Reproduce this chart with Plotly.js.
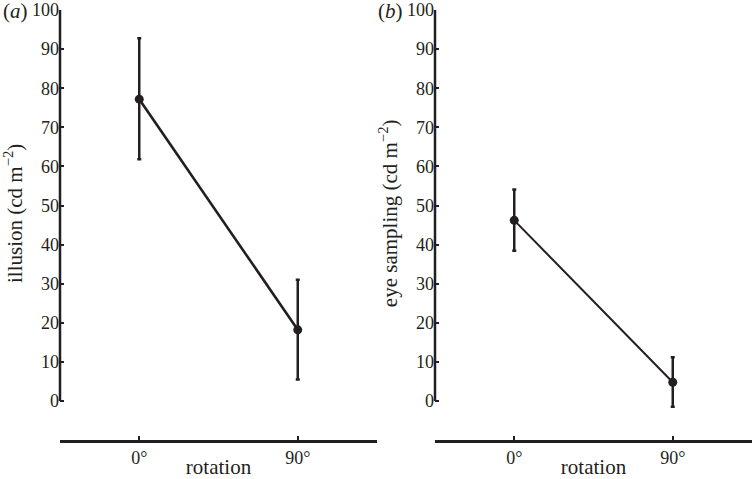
<!DOCTYPE html>
<html>
<head>
<meta charset="utf-8">
<script src="https://cdn.plot.ly/plotly-3.0.1.min.js"></script>
<style>html,body{margin:0;padding:0;background:#fff;}#chart{width:752px;height:479px;}</style>
</head>
<body>
<div id="chart"></div>
<script>
// data
const rotations = ['0°', '90°'];
const illusionMean = [77.2, 18.2];
const illusionErrPlus = [15.6, 12.8];
const illusionErrMinus = [15.4, 12.7];
const eyeMean = [46.2, 4.8];
const eyeErrPlus = [7.9, 6.4];
const eyeErrMinus = [7.8, 6.3];
const yTickVals = [0, 10, 20, 30, 40, 50, 60, 70, 80, 90, 100];
const panelLabels = ['(<i>a</i>)', '(<i>b</i>)'];

const ink = '#231f20';
const serif = 'Liberation Serif, Times New Roman, serif';
const tickSize = 18;
const titleSize = 21;

function trace(y, ep, em, xa, ya, lw) {
  return {
    x: rotations, y: y, xaxis: xa, yaxis: ya,
    type: 'scatter', mode: 'lines+markers', cliponaxis: false,
    line: {color: ink, width: lw},
    marker: {color: ink, size: 9},
    error_y: {type: 'data', symmetric: false, array: ep, arrayminus: em,
              color: ink, thickness: 2.5, width: 2},
    hoverinfo: 'skip', showlegend: false
  };
}

const data = [
  trace(illusionMean, illusionErrPlus, illusionErrMinus, 'x', 'y', 2.6),
  trace(eyeMean, eyeErrPlus, eyeErrMinus, 'x2', 'y2', 2)
];

const W = 692, H = 431;
const yMin = -4;
// pixel of y=0 is 401, y=100 is 10 => 3.91 px per unit
const yDomBottom = (441 - (401 + (-yMin) * 3.91)) / H;
const yDom = [yDomBottom, 1];
function xAxis(domain) {
  return {
    domain: domain, anchor: 'free', position: 0, type: 'category',
    range: [-0.5, 1.5], showline: true, linecolor: ink, linewidth: 2.5,
    ticks: 'inside', ticklen: 4, tickwidth: 2, tickcolor: ink,
    showgrid: false, zeroline: false, fixedrange: true,
    tickfont: {family: serif, size: tickSize, color: ink},
    title: {text: 'rotation', font: {family: serif, size: titleSize, color: ink}, standoff: 0}
  };
}
function yAxis(anchor, title) {
  return {
    domain: yDom, anchor: anchor, range: [yMin, 100],
    tickvals: yTickVals, ticktext: yTickVals.map(String),
    showline: false,
    ticks: 'inside', ticklen: 4, tickwidth: 2, tickcolor: ink,
    showgrid: false, zeroline: false, fixedrange: true,
    tickfont: {family: serif, size: tickSize, color: ink},
    title: {text: title, font: {family: serif, size: titleSize, color: ink}, standoff: 3}
  };
}
function axisLine(xr, yr) {
  return {type: 'line', xref: xr + ' domain', yref: yr, x0: 0, x1: 0, y0: 0, y1: 100,
          line: {color: ink, width: 2.5}, layer: 'above'};
}

const layout = {
  width: 752, height: 479,
  margin: {l: 60, r: 0, t: 10, b: 38},
  paper_bgcolor: '#fff', plot_bgcolor: '#fff',
  showlegend: false,
  xaxis: xAxis([0, (377 - 60) / W]),
  xaxis2: xAxis([(435 - 60) / W, 1]),
  yaxis: yAxis('x', 'illusion (cd m<sup>−2</sup>)'),
  yaxis2: yAxis('x2', 'eye sampling (cd m<sup>−2</sup>)'),
  shapes: [axisLine('x', 'y'), axisLine('x2', 'y2')],
  annotations: [
    {text: panelLabels[0], xref: 'paper', yref: 'paper', x: -59 / W, y: 1 + 1 / H, yshift: -2, xanchor: 'left', yanchor: 'middle',
     showarrow: false, font: {family: serif, size: titleSize, color: ink}},
    {text: panelLabels[1], xref: 'paper', yref: 'paper', x: (376 - 60) / W, y: 1 + 1 / H, yshift: -2, xanchor: 'left', yanchor: 'middle',
     showarrow: false, font: {family: serif, size: titleSize, color: ink}}
  ]
};

Plotly.newPlot('chart', data, layout, {staticPlot: true, displayModeBar: false});
</script>
</body>
</html>
